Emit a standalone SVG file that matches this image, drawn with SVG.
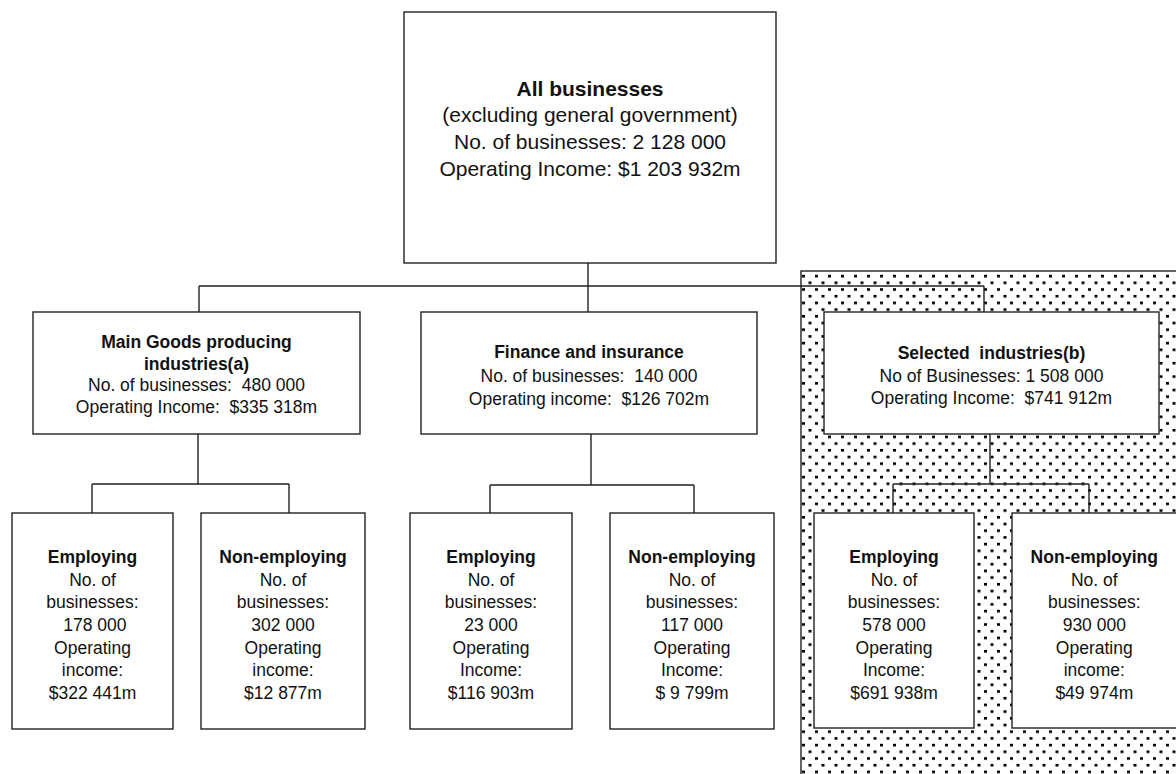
<svg xmlns="http://www.w3.org/2000/svg" width="1176" height="774" viewBox="0 0 1176 774">
<style>
.box{fill:#fff;stroke:#222;stroke-width:1.4}
.ln{fill:none;stroke:#222;stroke-width:1.4}
text{font-family:"Liberation Sans",Arial,sans-serif;fill:#111;text-anchor:middle;white-space:pre}
.t{font-size:21px}
.m{font-size:17.5px}
.b{font-weight:bold}
</style>
<defs>
<pattern id="dots" patternUnits="userSpaceOnUse" x="801" y="271" width="13" height="13.4">
<rect x="1" y="3.8" width="3" height="2.6" fill="#000"/>
<rect x="7.5" y="10.5" width="3" height="2.6" fill="#000"/>
</pattern>
</defs>
<rect width="1176" height="774" fill="#fff"/>
<g id="selected-region">
<rect x="801" y="271" width="390" height="520" fill="url(#dots)" stroke="#222" stroke-width="1.4"/>
</g>
<g id="connectors">
<path class="ln" d="M588 263V286M199 286H984M199 286V312M588 286V312M984 286V312"/>
<path class="ln" d="M198 434V484M92 484H289M92 484V513M289 484V513"/>
<path class="ln" d="M591 434V485M490 485H694M490 485V513M694 485V513"/>
<path class="ln" d="M990 434V484M893 484H1089M893 484V513M1089 484V513"/>
</g>
<g id="all-businesses">
<rect class="box" x="404" y="12" width="372" height="251"/>
<text class="t b" x="590" y="95.7">All businesses</text>
<text class="t" x="590" y="122.3">(excluding general government)</text>
<text class="t" x="590" y="149">No. of businesses: 2 128 000</text>
<text class="t" x="590" y="175.7">Operating Income: $1 203 932m</text>
</g>
<g id="main-goods">
<rect class="box" x="33" y="312" width="327" height="122"/>
<text class="m b" x="196.5" y="348.3">Main Goods producing</text>
<text class="m b" x="196.5" y="369.7">industries(a)</text>
<text class="m" x="196.5" y="391.2">No. of businesses:  480 000</text>
<text class="m" x="196.5" y="413.3">Operating Income:  $335 318m</text>
</g>
<g id="finance">
<rect class="box" x="421" y="312" width="336" height="122"/>
<text class="m b" x="589" y="358.3">Finance and insurance</text>
<text class="m" x="589" y="381.7">No. of businesses:  140 000</text>
<text class="m" x="589" y="405">Operating income:  $126 702m</text>
</g>
<g id="selected">
<rect class="box" x="824" y="312" width="335" height="122"/>
<text class="m b" x="991.5" y="359.3">Selected  industries(b)</text>
<text class="m" x="991.5" y="381.7">No of Businesses: 1 508 000</text>
<text class="m" x="991.5" y="404.3">Operating Income:  $741 912m</text>
</g>
<g id="mg-employing">
<rect class="box" x="12" y="513" width="161" height="216"/>
<text class="m b" x="92.5" y="563.3">Employing</text>
<text class="m" x="92.5" y="586">No. of</text>
<text class="m" x="92.5" y="607.8">businesses:</text>
<text class="m" x="92.5" y="630.7"> 178 000</text>
<text class="m" x="92.5" y="653.8">Operating</text>
<text class="m" x="92.5" y="676">income:</text>
<text class="m" x="92.5" y="699.3">$322 441m</text>
</g>
<g id="mg-nonemploying">
<rect class="box" x="201" y="513" width="164" height="216"/>
<text class="m b" x="283" y="563.3">Non-employing</text>
<text class="m" x="283" y="586">No. of</text>
<text class="m" x="283" y="607.8">businesses:</text>
<text class="m" x="283" y="630.7">302 000</text>
<text class="m" x="283" y="653.8">Operating</text>
<text class="m" x="283" y="676">income:</text>
<text class="m" x="283" y="699.3">$12 877m</text>
</g>
<g id="fin-employing">
<rect class="box" x="410" y="513" width="162" height="216"/>
<text class="m b" x="491" y="563.3">Employing</text>
<text class="m" x="491" y="586">No. of</text>
<text class="m" x="491" y="607.8">businesses:</text>
<text class="m" x="491" y="630.7">23 000</text>
<text class="m" x="491" y="653.8">Operating</text>
<text class="m" x="491" y="676">Income:</text>
<text class="m" x="491" y="699.3">$116 903m</text>
</g>
<g id="fin-nonemploying">
<rect class="box" x="610" y="513" width="164" height="216"/>
<text class="m b" x="692" y="563.3">Non-employing</text>
<text class="m" x="692" y="586">No. of</text>
<text class="m" x="692" y="607.8">businesses:</text>
<text class="m" x="692" y="630.7">117 000</text>
<text class="m" x="692" y="653.8">Operating</text>
<text class="m" x="692" y="676">Income:</text>
<text class="m" x="692" y="699.3">$ 9 799m</text>
</g>
<g id="sel-employing">
<rect class="box" x="814" y="513" width="160" height="215"/>
<text class="m b" x="894" y="563.3">Employing</text>
<text class="m" x="894" y="586">No. of</text>
<text class="m" x="894" y="607.8">businesses:</text>
<text class="m" x="894" y="630.7">578 000</text>
<text class="m" x="894" y="653.8">Operating</text>
<text class="m" x="894" y="676">Income:</text>
<text class="m" x="894" y="699.3">$691 938m</text>
</g>
<g id="sel-nonemploying">
<rect class="box" x="1012" y="513" width="166" height="215"/>
<text class="m b" x="1094.3" y="563.3">Non-employing</text>
<text class="m" x="1094.3" y="586">No. of</text>
<text class="m" x="1094.3" y="607.8">businesses:</text>
<text class="m" x="1094.3" y="630.7">930 000</text>
<text class="m" x="1094.3" y="653.8">Operating</text>
<text class="m" x="1094.3" y="676">income:</text>
<text class="m" x="1094.3" y="699.3">$49 974m</text>
</g>
</svg>
